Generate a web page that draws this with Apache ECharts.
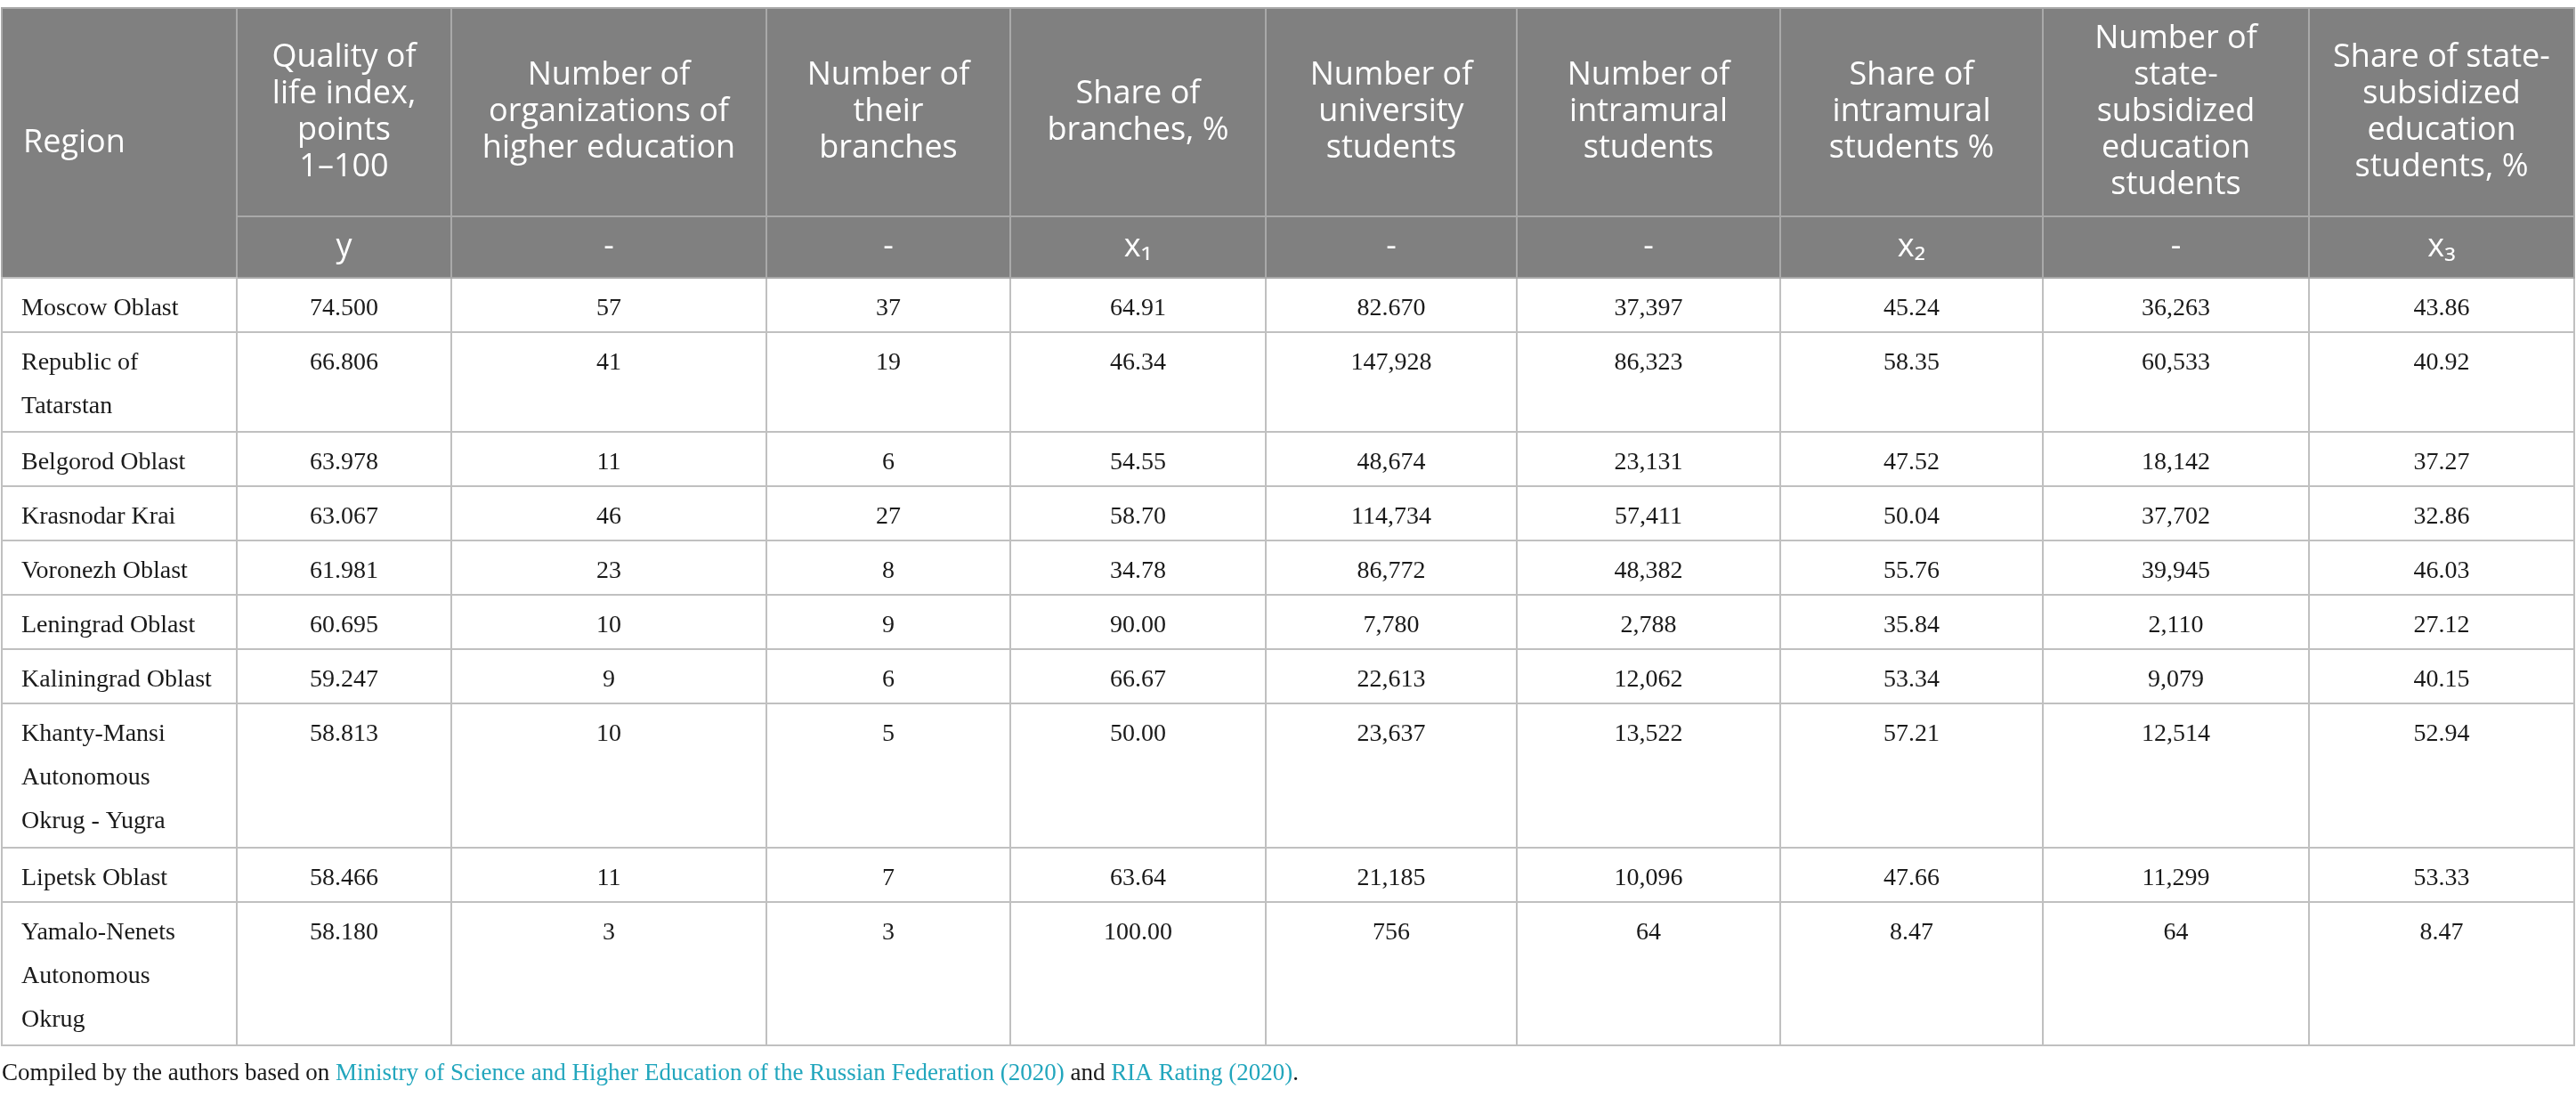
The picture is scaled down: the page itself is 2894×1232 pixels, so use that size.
<!DOCTYPE html>
<html>
<head>
<meta charset="utf-8">
<script src="https://cdn.jsdelivr.net/npm/echarts@6/dist/echarts.min.js"></script>
<style>
  html, body { margin: 0; padding: 0; background: #fff; }
  #chart { width: 2894px; height: 1232px; }
</style>
</head>
<body>
<div id="chart"></div>
<script>
// 数据 — 直接从表格读出来的 (保留原表的数字写法)
const regions = [
  'Moscow Oblast',
  'Republic of\nTatarstan',
  'Belgorod Oblast',
  'Krasnodar Krai',
  'Voronezh Oblast',
  'Leningrad Oblast',
  'Kaliningrad Oblast',
  'Khanty-Mansi\nAutonomous\nOkrug - Yugra',
  'Lipetsk Oblast',
  'Yamalo-Nenets\nAutonomous\nOkrug'
];
const columnTitles = [
  'Quality of\nlife index,\npoints\n1–100',
  'Number of\norganizations of\nhigher education',
  'Number of\ntheir\nbranches',
  'Share of\nbranches, %',
  'Number of\nuniversity\nstudents',
  'Number of\nintramural\nstudents',
  'Share of\nintramural\nstudents %',
  'Number of\nstate-\nsubsidized\neducation\nstudents',
  'Share of state-\nsubsidized\neducation\nstudents, %'
];
const columnSymbols = ['y', '-', '-', 'x₁', '-', '-', 'x₂', '-', 'x₃'];

const qualityIndex    = ['74.500', '66.806', '63.978', '63.067', '61.981', '60.695', '59.247', '58.813', '58.466', '58.180'];
const orgCount        = ['57', '41', '11', '46', '23', '10', '9', '10', '11', '3'];
const branchCount     = ['37', '19', '6', '27', '8', '9', '6', '5', '7', '3'];
const branchShare     = ['64.91', '46.34', '54.55', '58.70', '34.78', '90.00', '66.67', '50.00', '63.64', '100.00'];
const studentCount    = ['82.670', '147,928', '48,674', '114,734', '86,772', '7,780', '22,613', '23,637', '21,185', '756'];
const intramuralCount = ['37,397', '86,323', '23,131', '57,411', '48,382', '2,788', '12,062', '13,522', '10,096', '64'];
const intramuralShare = ['45.24', '58.35', '47.52', '50.04', '55.76', '35.84', '53.34', '57.21', '47.66', '8.47'];
const subsidizedCount = ['36,263', '60,533', '18,142', '37,702', '39,945', '2,110', '9,079', '12,514', '11,299', '64'];
const subsidizedShare = ['43.86', '40.92', '37.27', '32.86', '46.03', '27.12', '40.15', '52.94', '53.33', '8.47'];

const COLUMNS = [qualityIndex, orgCount, branchCount, branchShare, studentCount,
  intramuralCount, intramuralShare, subsidizedCount, subsidizedShare];

// 版式 (列宽 / 行高, px)
const COL_WIDTHS = [241, 354, 274, 287, 282, 296, 295, 299, 298];
const ROW_HEIGHTS = [61, 112, 61, 61, 61, 61, 61, 162, 61, 161];

const STYLE = {
  head: '#808080',
  headLine: '#a9a9a9',
  line: '#c0c0c0',
  text: '#1a1a1a',
  link: '#22a6bd',
  sans: '"Open Sans", "Noto Sans", sans-serif',
  serif: '"Liberation Serif", "DejaVu Serif", serif',
};

const headLabel = {
  color: '#fff',
  fontFamily: STYLE.sans,
  fontSize: 36,
  lineHeight: 41,
};
const bodyLabel = {
  color: STYLE.text,
  fontFamily: STYLE.serif,
  fontSize: 28,
  lineHeight: 49,
  position: 'insideTop',
  distance: 8,
};

// 重复的 "-" 会被 matrix 当成同名格子, 用零宽空格区分开
const xData = columnTitles.map((t, i) => ({
  value: t,
  children: [{ value: columnSymbols[i] + '\u200b'.repeat(i), size: COL_WIDTHS[i] }],
}));
const yData = regions.map((r, i) => ({ value: r, size: ROW_HEIGHTS[i] }));

const bodyData = [];
COLUMNS.forEach((col, c) => {
  col.forEach((v, r) => bodyData.push({ coord: [c, r], value: v }));
});

const chart = echarts.init(document.getElementById('chart'), null, { renderer: 'canvas' });
chart.setOption({
  animation: false,
  backgroundColor: '#fff',
  matrix: {
    left: 2, top: 9, width: 2890, height: 1165,
    backgroundStyle: { color: '#fff', borderColor: STYLE.line, borderWidth: 2 },
    borderZ2: 10,
    x: {
      data: xData,
      levels: [{ levelSize: 234 }, { levelSize: 69 }],
      itemStyle: { color: STYLE.head, borderColor: STYLE.headLine, borderWidth: 2 },
      label: headLabel,
      dividerLineStyle: { color: STYLE.line, width: 2 },
    },
    y: {
      data: yData,
      levels: [{ levelSize: 264 }],
      itemStyle: { color: '#fff', borderColor: STYLE.line, borderWidth: 2 },
      label: {
        color: STYLE.text,
        fontFamily: STYLE.serif,
        fontSize: 28,
        lineHeight: 49,
        position: [19, 8],
        align: 'left',
        verticalAlign: 'top',
      },
      dividerLineStyle: { color: STYLE.line, width: 2 },
    },
    corner: {
      data: [{ coord: [-1, [-2, -1]], value: 'Region', mergeCells: true }],
      itemStyle: { color: STYLE.head, borderColor: STYLE.headLine, borderWidth: 2 },
      label: Object.assign({}, headLabel, { position: 'insideLeft', distance: 21 }),
    },
    body: {
      data: bodyData,
      itemStyle: { color: '#fff', borderColor: STYLE.line, borderWidth: 2 },
      label: bodyLabel,
    },
  },
  title: {
    left: 2,
    top: 1192,
    padding: 0,
    text: '{a|Compiled by the authors based on }{b|Ministry of Science and Higher Education of the Russian Federation (2020)}{a| and }{b|RIA Rating (2020)}{a|.}',
    textStyle: {
      fontWeight: 'normal',
      rich: {
        a: { fontFamily: STYLE.serif, fontSize: 27, fontWeight: 'normal', color: STYLE.text },
        b: { fontFamily: STYLE.serif, fontSize: 27, fontWeight: 'normal', color: STYLE.link },
      },
    },
  },
});
</script>
</body>
</html>
